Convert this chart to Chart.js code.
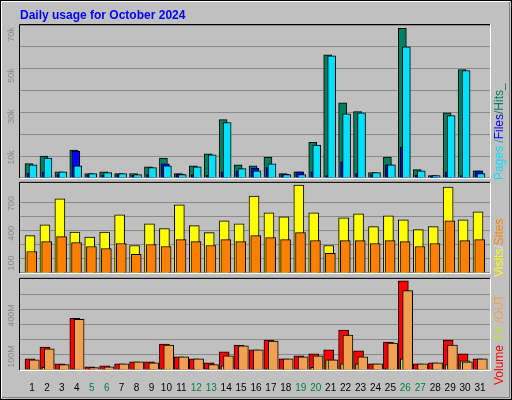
<!DOCTYPE html>
<html><head><meta charset="utf-8">
<script src="https://cdn.jsdelivr.net/npm/chart.js@4"></script>
<style>html,body{margin:0;padding:0;background:#c0c0c0}canvas{display:block}</style>
</head><body>
<canvas id="c" width="512" height="400"></canvas>
<script>
const days = Array.from({length:31},(_,i)=>String(i+1));
const weekendDays = [5,6,12,13,19,20,26,27];
const title = "Daily usage for October 2024";
// top panel (thousands)
const hits  = [7.0,10.7,3.0,13.6,2.1,3.0,2.1,2.1,5.4,9.7,2.1,5.9,11.7,28.4,6.4,5.9,10.2,2.1,3.0,17.4,60.1,36.6,32.3,2.6,10.2,73.0,4.0,1.1,31.8,52.9,3.5];
const files = [2.2,2.7,1.9,13.1,1.4,1.4,1.6,1.3,1.6,6.9,1.9,1.6,1.3,3.0,3.5,4.8,5.0,1.9,3.0,3.0,1.1,7.8,2.1,1.6,6.4,15.0,1.3,1.0,3.0,1.1,3.5];
const pages = [6.4,9.7,3.0,5.9,2.1,2.6,2.1,1.6,5.0,5.9,1.6,5.4,11.2,27.0,4.5,3.5,6.9,1.6,1.6,16.0,59.6,31.3,31.8,2.6,6.4,63.9,3.5,1.1,30.4,52.4,2.1];
// middle panel
const visits = [377,487,747,413,363,413,587,277,497,447,687,477,407,527,497,777,607,567,887,607,277,557,597,467,577,537,437,467,867,537,617];
const sites  = [217,317,367,307,267,247,297,187,287,267,337,317,277,337,317,377,357,337,407,327,197,327,327,297,327,317,267,297,527,327,337];
// bottom panel (MB)
const volume = [82,169,46,380,24,31,46,60,60,191,97,82,53,133,184,148,220,82,104,119,148,293,140,46,206,656,46,53,220,119,82];
const volIn  = [12,19,8,10,4,5,6,6,6,12,8,6,10,31,8,8,12,6,8,19,75,46,46,6,12,82,6,6,39,68,8];
const volOut = [75,155,39,373,17,24,46,60,53,184,97,82,39,104,177,148,213,82,97,104,75,257,97,46,198,583,46,53,184,60,82];
const topTicks = [10,30,50,70];
const midTicks = [100,400,700];
const botTicks = [100,400];

const mk = (arr, off) => arr.map((v,i)=>({x:i+1+off, y:v}));
const ds = (label, arr, off, color, w, axis, order) => ({label, data:mk(arr,off), backgroundColor:color, borderColor:'#000', borderWidth:1, barThickness:w, yAxisID:axis, grouped:false, order});

const frames = {
  id:'frames',
  beforeDraw(ch){
    const c=ch.ctx; c.save();
    c.fillStyle='#c0c0c0'; c.fillRect(0,0,512,400);
    c.strokeStyle='#000'; c.strokeRect(0.5,0.5,511,399);
    c.strokeStyle='#fff'; c.beginPath(); c.moveTo(1.5,398);c.lineTo(1.5,1.5);c.lineTo(510,1.5);c.stroke();
    c.strokeStyle='#808080'; c.beginPath(); c.moveTo(2,397.5);c.lineTo(509.5,397.5);c.lineTo(509.5,2);c.stroke();
    c.fillStyle='#0000ff'; c.font='bold 12px "Liberation Sans",Arial'; c.textBaseline='alphabetic';
    c.fillText(title,20,19);
    c.restore();
  },
  afterDraw(ch){
    const c=ch.ctx; c.save();
    const L=ch.chartArea.left, R=ch.chartArea.right;
    for(const id of ['yTop','yMid','yBot']){
      const s=ch.scales[id];
      c.strokeStyle='#000'; c.beginPath(); c.moveTo(L-0.5,s.bottom); c.lineTo(L-0.5,s.top-0.5); c.lineTo(R,s.top-0.5); c.stroke();
      c.strokeStyle='#fff'; c.beginPath(); c.moveTo(L,s.bottom+0.5); c.lineTo(R+0.5,s.bottom+0.5); c.lineTo(R+0.5,s.top-1); c.stroke();
    }
    c.font='9px "Liberation Sans",Arial'; c.fillStyle='#8c8c8c'; c.textAlign='center'; c.textBaseline='middle';
    const lab=(id,vals,fmt)=>{const s=ch.scales[id]; vals.forEach(v=>{c.save();c.translate(12,s.getPixelForValue(v));c.rotate(-Math.PI/2);c.fillText(fmt(v),0,0);c.restore();});};
    lab('yTop',topTicks.map(v=>v*1000),v=>(v/1000)+'k');
    lab('yMid',midTicks,v=>String(v));
    lab('yBot',botTicks,v=>v+'M');
    const leg=(y,parts)=>{c.save();c.translate(500,y);c.rotate(-Math.PI/2);c.textAlign='left';c.textBaseline='middle';c.font='12px "Liberation Sans",Arial';let x=0;parts.forEach(([t,col])=>{c.fillStyle=col;c.fillText(t,x,0);x+=c.measureText(t).width;});c.restore();};
    leg(180,[['Pages','#00e0ff'],[' /','#00a0c0'],['Files','#0000ff'],['/','#008040'],['Hits_','#008060']]);
    leg(277,[['Visits','#ffff00'],['/','#e0e0e0'],['Sites','#ff8000']]);
    leg(385,[['Volume','#ff0000'],[' /IN','#c0e040'],[' /OUT','#f0a050']]);
    c.restore();
  }
};

new Chart(document.getElementById('c'),{
  type:'bar',
  data:{datasets:[
    ds('Hits',hits.map(v=>v*1000),-0.2,'#008060',8,'yTop',3),
    ds('Files',files.map(v=>v*1000),-0.067,'#0000ff',8,'yTop',2),
    ds('Pages',pages.map(v=>v*1000),0.067,'#00e0ff',8,'yTop',1),
    ds('Visits',visits,-0.133,'#ffff00',10,'yMid',2),
    ds('Sites',sites,-0.02,'#ff8000',10,'yMid',1),
    ds('Volume',volume,-0.133,'#ff0000',10,'yBot',3),
    ds('IN',volIn,0.0,'#c0e040',10,'yBot',2),
    ds('OUT',volOut,0.155,'#f0a050',10,'yBot',1),
  ]},
  options:{
    responsive:false, animation:false, devicePixelRatio:1,
    layout:{padding:{left:20,right:22,top:25,bottom:2}},
    plugins:{legend:{display:false},tooltip:{enabled:false}},
    scales:{
      x:{type:'linear',min:0.196,max:31.67,offset:false,
        afterBuildTicks:s=>{s.ticks=days.map(d=>({value:+d}));},
        ticks:{autoSkip:false,maxRotation:0,padding:4,font:{size:10,family:'"Liberation Sans",Arial'},
          color:c=>weekendDays.includes(c.tick.value)?'#008040':'#000',callback:v=>String(v)},
        grid:{display:false},border:{display:false}},
      yBot:{position:'left',stack:'p',stackWeight:93,min:0,max:670,
        ticks:{display:false,stepSize:111},grid:{color:'#8a8a8a',drawTicks:false},border:{display:false}},
      sp2:{position:'left',stack:'p',stackWeight:6,display:true,min:0,max:1,ticks:{display:false},grid:{display:false,drawTicks:false},border:{display:false}},
      yMid:{position:'left',stack:'p',stackWeight:92,min:0,max:910,
        ticks:{display:false,stepSize:142.5},grid:{color:'#8a8a8a',drawTicks:false},border:{display:false}},
      sp1:{position:'left',stack:'p',stackWeight:5,display:true,min:0,max:1,ticks:{display:false},grid:{display:false,drawTicks:false},border:{display:false}},
      yTop:{position:'left',stack:'p',stackWeight:156,min:0,max:74600,
        ticks:{display:false,stepSize:10000},grid:{color:'#8a8a8a',drawTicks:false},border:{display:false}},
    }
  },
  plugins:[frames]
});
</script>
</body></html>
